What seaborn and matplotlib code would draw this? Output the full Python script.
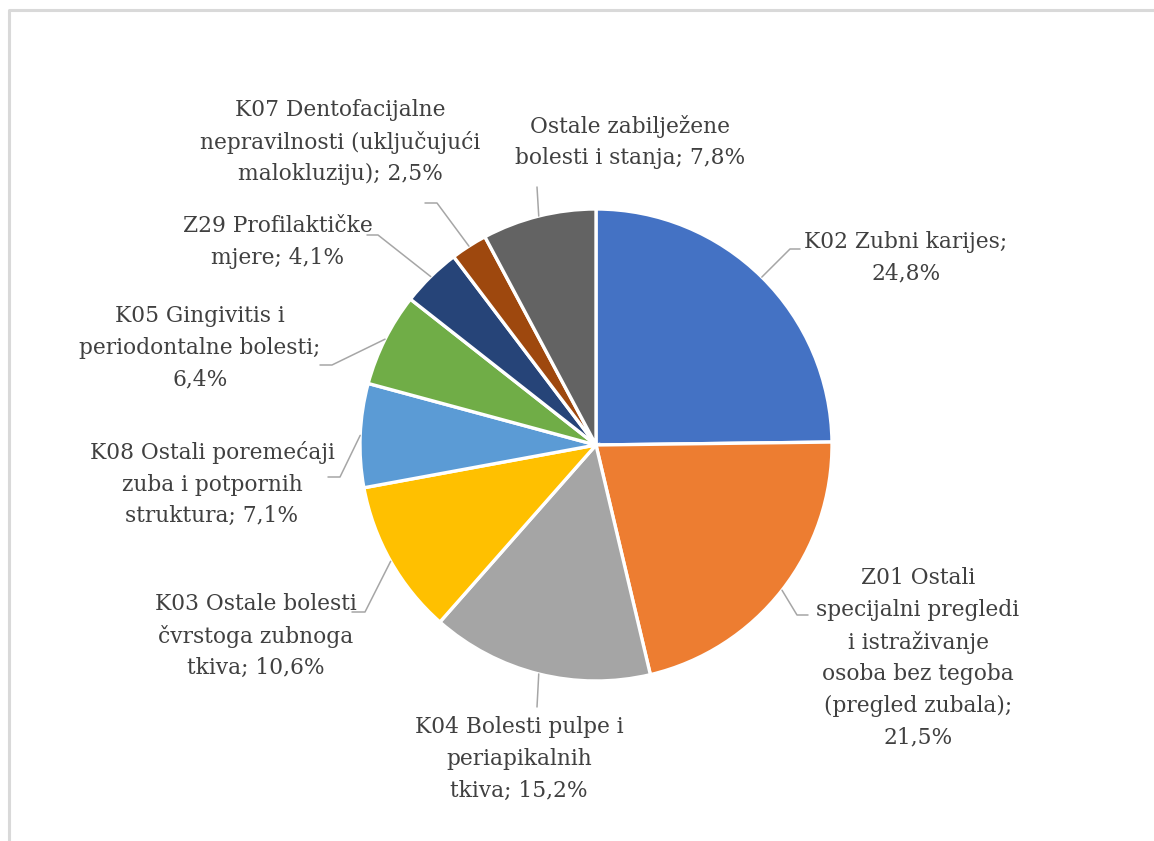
import numpy as np
import seaborn as sns
import matplotlib.pyplot as plt

# data
labels = [
    "K02 Zubni karijes;\n24,8%",
    "Z01 Ostali\nspecijalni pregledi\ni istraživanje\nosoba bez tegoba\n(pregled zubala);\n21,5%",
    "K04 Bolesti pulpe i\nperiapikalnih\ntkiva; 15,2%",
    "K03 Ostale bolesti\nčvrstoga zubnoga\ntkiva; 10,6%",
    "K08 Ostali poremećaji\nzuba i potpornih\nstruktura; 7,1%",
    "K05 Gingivitis i\nperiodontalne bolesti;\n6,4%",
    "Z29 Profilaktičke\nmjere; 4,1%",
    "K07 Dentofacijalne\nnepravilnosti (uključujući\nmalokluziju); 2,5%",
    "Ostale zabilježene\nbolesti i stanja; 7,8%",
]
shares = [24.8, 21.5, 15.2, 10.6, 7.1, 6.4, 4.1, 2.5, 7.8]
colors = ["#4472C4", "#ED7D31", "#A5A5A5", "#FFC000", "#5B9BD5",
          "#70AD47", "#264478", "#9E480E", "#636363"]

# layout in pixels (from top-left)
W, H = 1154, 841
cx, cy, R = 596, 445, 236
text_pos = [(906, 258), (918, 658), (519, 759), (256, 636), (212, 484),
            (200, 348), (278, 242), (340, 142), (630, 142)]
elbow = [(790, 249), (797, 615), (537, 707), (365, 612), (340, 477),
         (332, 365), (378, 235), (437, 203), (537, 187)]
stub = [10, 11, 0, -13, -12, -12, -11, -12, 0]

sns.set_theme(style="white")
plt.rcParams["font.family"] = ["DejaVu Serif"]

fig = plt.figure(figsize=(W / 100, H / 100), dpi=100)
ax = fig.add_axes([0, 0, 1, 1])

wedges, _ = ax.pie(shares, colors=colors, startangle=90, counterclock=False,
                   center=(cx, H - cy), radius=R,
                   wedgeprops=dict(edgecolor="white", linewidth=2.4))
ax.set_xlim(0, W)
ax.set_ylim(0, H)
ax.set_aspect("equal")
ax.axis("off")

# chart border
ax.plot([9, 9, W + 5], [-5, H - 9.5, H - 9.5], color="#d9d9d9", lw=2.2,
        solid_capstyle="butt")

for w, lab, (tx, ty), (ex, ey), s in zip(wedges, labels, text_pos, elbow, stub):
    ang = np.deg2rad((w.theta1 + w.theta2) / 2)
    sx = cx + R * np.cos(ang)
    sy = (H - cy) + R * np.sin(ang)
    xs = [sx, ex, ex + s]
    ys = [sy, H - ey, H - ey]
    ax.plot(xs, ys, color="#a6a6a6", lw=1.1)
    ax.text(tx, H - ty, lab, ha="center", va="center", fontsize=15.7,
            color="#404040", linespacing=1.56)

fig.savefig("out.png", dpi=100)
